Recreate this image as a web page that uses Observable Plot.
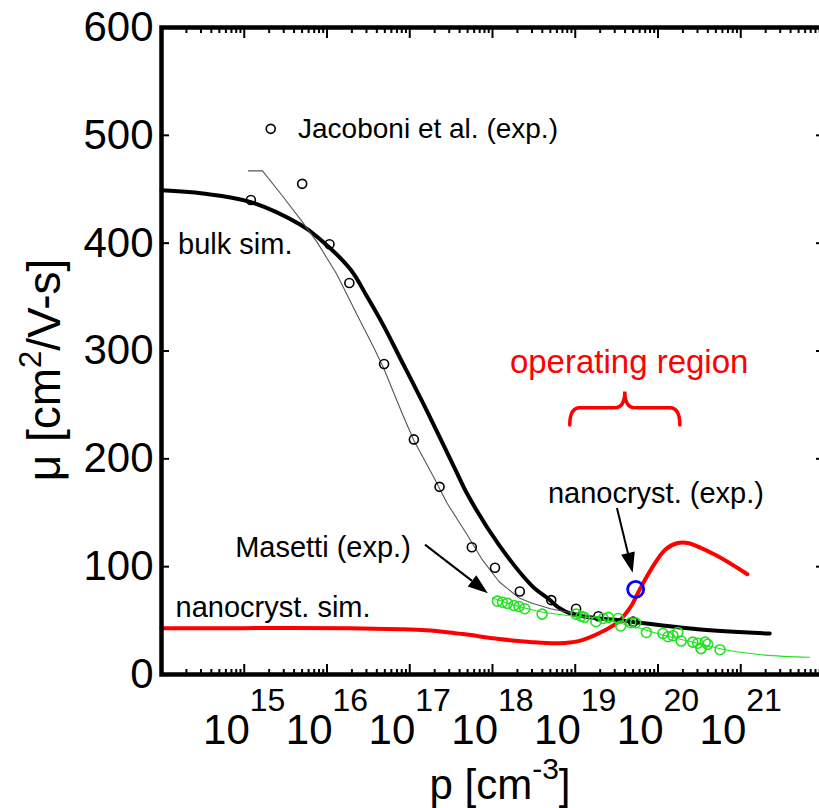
<!DOCTYPE html>
<html><head><meta charset="utf-8">
<script src="https://cdn.jsdelivr.net/npm/d3@7"></script>
<script src="https://cdn.jsdelivr.net/npm/@observablehq/plot@0.6"></script>
<style>html,body{margin:0;padding:0;background:#fff;overflow:hidden;width:819px;height:808px}</style>
</head><body><div id="chart"></div>
<script>
// ---- data (log10 p, mobility) ----
const bulkSimLogP = [14.0, 14.5, 15.08, 15.68, 15.88, 16.28, 16.48, 16.68, 16.88, 17.21, 17.57, 17.69, 18.08, 18.48, 18.68, 18.8, 18.96, 19.68, 20.48, 21.35];
const bulkSimMu   = [449, 446, 438, 417, 406, 376, 351, 324, 294, 244, 187, 168, 120, 82, 70, 62, 56, 49, 42, 38];

const jacoFitLogP = [15.05, 15.22, 15.46, 15.70, 15.88, 16.12, 16.36, 16.56, 16.68, 16.92, 17.05, 17.29, 17.45, 17.69, 17.88, 18.08, 18.32, 18.48, 18.7, 18.96, 19.2];
const jacoFitMu   = [467, 467, 444, 420, 401, 371, 334, 304, 285, 240, 217, 183, 159, 130, 106, 86, 71, 66, 61, 57, 54];

const jacoExpLogP = [15.08, 15.70, 16.03, 16.27, 16.69, 17.05, 17.36, 17.75, 18.03, 18.33, 18.71, 19.01, 19.28, 19.70];
const jacoExpMu   = [440, 455, 399, 363, 288, 218, 174, 118, 99, 77, 69, 61, 54, 49];

const masExpLogP = [18.06, 18.12, 18.18, 18.26, 18.32, 18.39, 18.60, 19.01, 19.07, 19.11, 19.25, 19.34, 19.40, 19.52, 19.55, 19.67, 19.73, 19.86, 20.06, 20.12, 20.18, 20.24, 20.28, 20.42, 20.48, 20.52, 20.57, 20.60, 20.75];
const masExpMu   = [68, 67, 66, 64, 63, 61, 56, 56, 54, 53, 49, 52, 53, 52, 45, 48, 48, 39, 38, 35, 36, 39, 31, 30, 29, 24, 30, 28, 23];

const masFitLogP = [18.0, 18.32, 18.60, 19.01, 19.28, 19.68, 20.09, 20.48, 20.88, 21.29, 21.83];
const masFitMu   = [71, 63, 58, 54, 52, 45, 36, 29, 22, 18, 16];

const nanoSimLogP = [14.0, 15.0, 16.28, 16.88, 17.2, 17.48, 17.69, 18.08, 18.48, 18.8, 19.04, 19.28, 19.52, 19.68, 19.76, 19.92, 20.09, 20.24, 20.36, 20.69, 21.08];
const nanoSimMu   = [43, 43, 43, 42, 41, 39, 37, 33, 30, 29, 31, 38, 49, 64, 76, 98, 116, 122, 122, 111, 93];

const nanoExpLogP = [19.73];
const nanoExpMu   = [79];

const yTicks = [0, 100, 200, 300, 400, 500, 600];
const xLabeledExp = [15, 16, 17, 18, 19, 20, 21];
const xMajorExp = [14, 15, 16, 17, 18, 19, 20, 21, 22];

// annotations
const labels = [
  {lp: 15.65, mu: 506, t: "Jacoboni et al. (exp.)", c: "black", fs: 28},
  {lp: 14.2, mu: 399, t: "bulk sim.", c: "black", fs: 29},
  {lp: 18.21, mu: 289, t: "operating region", c: "red", fs: 33},
  {lp: 18.67, mu: 168, t: "nanocryst. (exp.)", c: "black", fs: 29},
  {lp: 14.89, mu: 118, t: "Masetti (exp.)", c: "black", fs: 29},
  {lp: 14.17, mu: 62, t: "nanocryst. sim.", c: "black", fs: 29}
];
const legendMarker = [{lp: 15.32, mu: 506}];
const arrows = [
  {lp1: 17.19, mu1: 120, lp2: 17.95, mu2: 75},
  {lp1: 19.51, mu1: 154, lp2: 19.70, mu2: 94}
];
const brace = {lp1: 18.94, lp2: 20.27, muEnd: 231, muBar: 247, muTip: 262};

// ---- helpers ----
const rows = (lp, mu) => lp.map((l, i) => ({p: Math.pow(10, l), mu: mu[i]}));
const pw = (e) => Math.pow(10, e);
const xMinor = [];
for (let e = 14; e < 22; e++) for (let m = 2; m <= 9; m++) xMinor.push(m * pw(e));

function arrowMark(index, scales) {
  const {x, y} = scales;
  const g = d3.create("svg:g");
  for (const a of arrows) {
    const x1 = x(pw(a.lp1)), y1 = y(a.mu1), x2 = x(pw(a.lp2)), y2 = y(a.mu2);
    const ang = Math.atan2(y2 - y1, x2 - x1);
    const L = 20, W = 7;
    const bx = x2 - L * Math.cos(ang), by = y2 - L * Math.sin(ang);
    g.append("line").attr("x1", x1).attr("y1", y1).attr("x2", bx).attr("y2", by)
      .attr("stroke", "black").attr("stroke-width", 2);
    g.append("path")
      .attr("d", `M${x2},${y2}L${bx + W * Math.sin(ang)},${by - W * Math.cos(ang)}L${bx - W * Math.sin(ang)},${by + W * Math.cos(ang)}Z`)
      .attr("fill", "black");
  }
  return g.node();
}
function braceMark(index, scales) {
  const {x, y} = scales;
  const xa = x(pw(brace.lp1)), xb = x(pw(brace.lp2)), xc = (xa + xb) / 2;
  const ye = y(brace.muEnd), ym = y(brace.muBar), yt = y(brace.muTip);
  const r = 10;
  const d = `M${xa},${ye}Q${xa},${ym} ${xa + r},${ym}L${xc - r},${ym}Q${xc},${ym} ${xc},${yt}Q${xc},${ym} ${xc + r},${ym}L${xb - r},${ym}Q${xb},${ym} ${xb},${ye}`;
  return d3.create("svg:path").attr("d", d).attr("fill", "none").attr("stroke", "red")
    .attr("stroke-width", 3.5).attr("stroke-linecap", "round").node();
}

const plot = Plot.plot({
  width: 830, height: 808,
  marginLeft: 161, marginRight: 7, marginTop: 27, marginBottom: 134,
  style: {maxWidth: "none", overflow: "visible", fontFamily: "'Liberation Sans', Arial, sans-serif", background: "white"},
  x: {type: "log", domain: [pw(14), pw(22)]},
  y: {domain: [0, 600]},
  marks: [
    Plot.line(rows(nanoSimLogP, nanoSimMu), {x: "p", y: "mu", stroke: "red", strokeWidth: 4, curve: "catmull-rom"}),
    Plot.line(rows(bulkSimLogP, bulkSimMu), {x: "p", y: "mu", stroke: "black", strokeWidth: 4, curve: "catmull-rom"}),
    Plot.line(rows(jacoFitLogP, jacoFitMu), {x: "p", y: "mu", stroke: "#555", strokeWidth: 1.1}),
    Plot.line(rows(masFitLogP, masFitMu), {x: "p", y: "mu", stroke: "#22e022", strokeWidth: 1.1, curve: "catmull-rom"}),
    Plot.dot(rows(jacoExpLogP, jacoExpMu), {x: "p", y: "mu", r: 4.5, stroke: "black", strokeWidth: 1.6}),
    Plot.dot(rows(masExpLogP, masExpMu), {x: "p", y: "mu", r: 5, stroke: "#22e022", strokeWidth: 1.6}),
    Plot.dot(rows(nanoExpLogP, nanoExpMu), {x: "p", y: "mu", r: 8, stroke: "#0000ff", strokeWidth: 2.8}),
    Plot.dot(legendMarker, {x: d => pw(d.lp), y: "mu", r: 4.5, stroke: "black", strokeWidth: 1.6}),
    Plot.text(labels, {x: d => pw(d.lp), y: "mu", text: "t", fill: "c", fontSize: "fs", textAnchor: "start"}),
    arrowMark,
    braceMark,
    Plot.frame({strokeWidth: 4.5}),
    Plot.axisY({ticks: yTicks, anchor: "left", tickSize: -8, tickPadding: 16, fontSize: 42, label: null, strokeWidth: 2}),
    Plot.axisY({ticks: yTicks, anchor: "right", tickSize: -8, tickFormat: () => "", label: null, strokeWidth: 2}),
    Plot.axisX({ticks: xLabeledExp.map(pw), anchor: "bottom", tickSize: -10, tickPadding: 50, fontSize: 42, label: null, strokeWidth: 2,
      tickFormat: d => String(Math.round(Math.log10(d)))}),
    Plot.axisX({ticks: xMajorExp.map(pw), anchor: "top", tickSize: -10, tickFormat: () => "", label: null, strokeWidth: 2}),
    Plot.axisX({ticks: xMinor, anchor: "bottom", tickSize: -5, tickFormat: () => "", label: null, strokeWidth: 2}),
    Plot.axisX({ticks: xMinor, anchor: "top", tickSize: -5, tickFormat: () => "", label: null, strokeWidth: 2})
  ]
});

const svg = d3.select(plot);
svg.selectAll('g[aria-label="x-axis tick label"] text').each(function () {
  const e = this.textContent;
  if (!e) return;
  const t = d3.select(this);
  t.text(null);
  t.append("tspan").text("10");
  t.append("tspan").attr("font-size", 32).attr("dy", -33).text(e);
});
// axis titles
const yt = svg.append("text").attr("transform", "translate(60,370) rotate(-90)")
  .attr("text-anchor", "middle").attr("font-size", 46).attr("fill", "black");
yt.append("tspan").text("\u03bc [cm");
yt.append("tspan").attr("font-size", 31).attr("dy", -19).text("2");
yt.append("tspan").attr("dy", 19).text("/V-s]");
const xt = svg.append("text").attr("transform", "translate(500,799)")
  .attr("text-anchor", "middle").attr("font-size", 42).attr("fill", "black");
xt.append("tspan").text("p [cm");
xt.append("tspan").attr("font-size", 30).attr("dy", -20).text("-3");
xt.append("tspan").attr("dy", 20).text("]");

document.getElementById("chart").appendChild(plot);
</script>
</body></html>
